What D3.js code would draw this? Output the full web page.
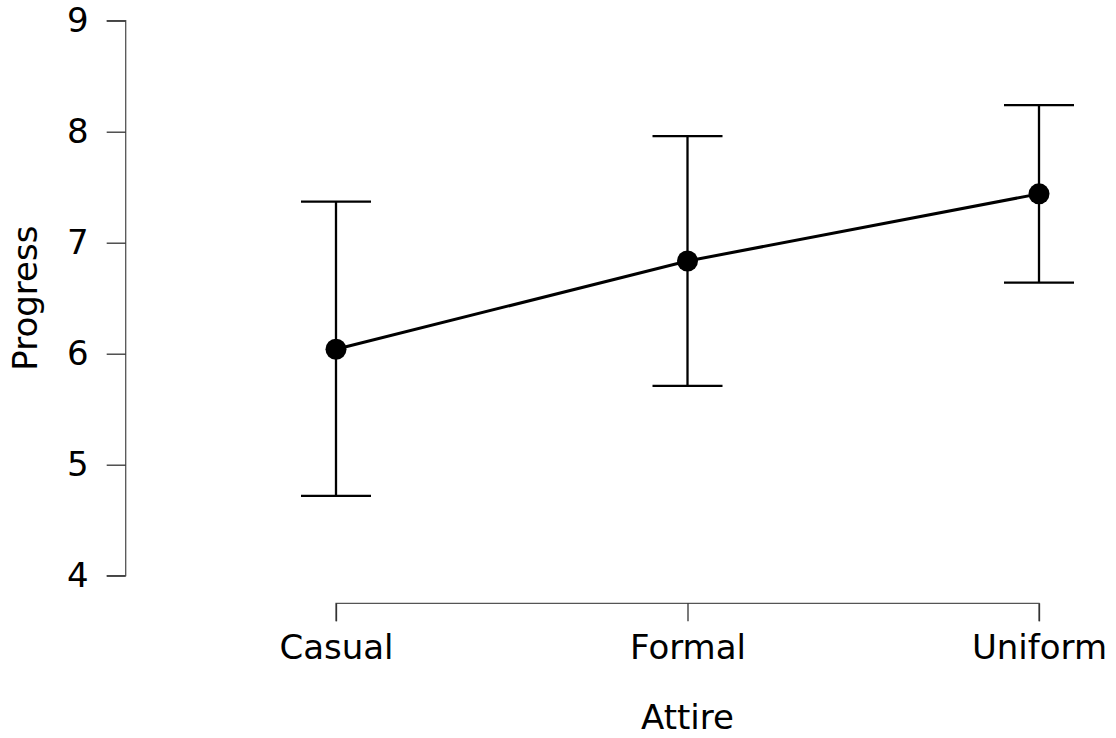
<!DOCTYPE html>
<html>
<head>
<meta charset="utf-8">
<script src="https://cdn.jsdelivr.net/npm/d3@7"></script>
<style>
  html, body { margin: 0; padding: 0; background: #fff; }
  svg { display: block; }
  text { font-family: "DejaVu Sans", sans-serif; fill: #000; }
</style>
</head>
<body>
<svg id="chart" width="1116" height="738"></svg>
<script>
const categories = ["Casual", "Formal", "Uniform"];
const means = [6.04, 6.835, 7.44];
const lower = [4.72, 5.71, 6.64];
const upper = [7.37, 7.96, 8.24];
const yTicks = [4, 5, 6, 7, 8, 9];
const xLabel = "Attire";
const yLabel = "Progress";

const svg = d3.select("#chart");
const fontSize = 34;

const x = d3.scalePoint().domain(categories).range([336, 1039]);
const y = d3.scaleLinear().domain([4, 9]).range([575.7, 20.7]);

// Y axis
const yAxisG = svg.append("g").attr("transform", "translate(125.7,0)")
  .call(d3.axisLeft(y).tickValues(yTicks).tickSize(19).tickPadding(18).tickFormat(d3.format("d")));
// X axis
const xAxisG = svg.append("g").attr("transform", "translate(0,603.3)")
  .call(d3.axisBottom(x).tickSize(18).tickPadding(14));

[yAxisG, xAxisG].forEach(g => {
  g.select(".domain").attr("stroke", "#555").attr("stroke-width", 1.3);
  g.selectAll(".tick line").attr("stroke", "#333").attr("stroke-width", 1.3);
  g.selectAll(".tick text").style("font-size", fontSize + "px").attr("fill", "#000")
    .style("font-family", '"DejaVu Sans", sans-serif');
});
xAxisG.select(".domain").attr("d", `M${x(categories[0])},18V0H${x(categories[2])}V18`);
yAxisG.select(".domain").attr("d", `M-19,${y(9)}H0V${y(4)}H-19`);

// Axis titles
svg.append("text").attr("x", 687.5).attr("y", 729).attr("text-anchor", "middle")
  .style("font-size", fontSize + "px").text(xLabel);
svg.append("text").attr("transform", `translate(37,${(y(4)+y(9))/2}) rotate(-90)`)
  .attr("text-anchor", "middle").style("font-size", fontSize + "px").text(yLabel);

const data = categories.map((c, i) => ({c, m: means[i], lo: lower[i], hi: upper[i]}));

// Error bars
const eb = svg.append("g").attr("stroke", "#000").attr("stroke-width", 2.3).attr("fill", "none");
data.forEach(d => {
  eb.append("line").attr("x1", x(d.c)).attr("x2", x(d.c)).attr("y1", y(d.lo)).attr("y2", y(d.hi));
  eb.append("line").attr("x1", x(d.c) - 35).attr("x2", x(d.c) + 35).attr("y1", y(d.hi)).attr("y2", y(d.hi));
  eb.append("line").attr("x1", x(d.c) - 35).attr("x2", x(d.c) + 35).attr("y1", y(d.lo)).attr("y2", y(d.lo));
});

// Line
svg.append("path").datum(data)
  .attr("d", d3.line().x(d => x(d.c)).y(d => y(d.m)))
  .attr("fill", "none").attr("stroke", "#000").attr("stroke-width", 3);

// Points
svg.append("g").selectAll("circle").data(data).join("circle")
  .attr("cx", d => x(d.c)).attr("cy", d => y(d.m)).attr("r", 10.5).attr("fill", "#000");
</script>
</body>
</html>
